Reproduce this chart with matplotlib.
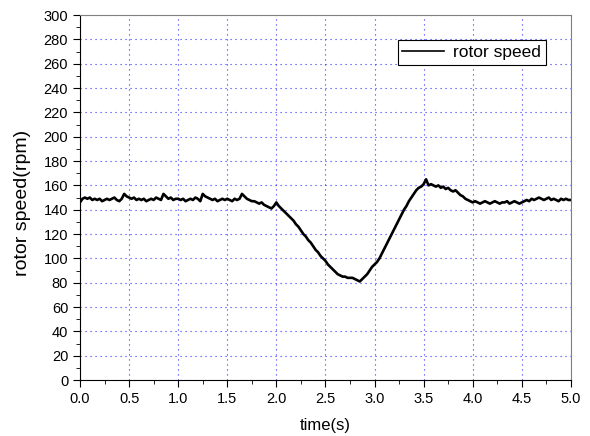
import matplotlib.pyplot as plt
import numpy as np

plt.rcParams['font.family'] = ['Liberation Sans', 'DejaVu Sans']

speed = [
    146, 149, 150, 149, 150, 148, 149, 148, 149, 147, 148, 149, 148, 149, 150, 148, 147, 149, 153, 151,
    150, 149, 150, 148, 149, 148, 149, 147, 148, 149, 148, 150, 149, 148, 153, 151, 149, 150, 148, 149,
    149, 148, 149, 147, 148, 149, 148, 150, 149, 147, 153, 151, 150, 149, 148, 149, 147, 148, 149, 148,
    149, 148, 147, 149, 148, 149, 153, 151, 149, 148, 147, 147, 146, 145, 146, 144, 143, 142, 141, 143,
    146, 143, 141, 139, 137, 135, 133, 131, 128, 126, 123, 120, 118, 115, 113, 110, 107, 105, 102, 100,
    98, 95, 93, 91, 89, 87, 86, 85, 85, 84, 84, 84, 83, 82, 81, 83, 85, 87, 90, 93,
    95, 97, 100, 104, 108, 112, 116, 120, 124, 128, 132, 136, 140, 143, 147, 150, 153, 156, 158, 159,
    161, 165, 160, 161, 160, 159, 160, 158, 159, 157, 158, 156, 155, 156, 154, 152, 151, 149, 148, 147,
    146, 147, 146, 145, 146, 147, 146, 145, 146, 147, 146, 145, 146, 146, 147, 145, 146, 147, 146, 145,
    146, 147, 148, 147, 149, 148, 149, 150, 149, 148, 149, 150, 148, 149, 148, 147, 149, 148, 149, 148, 148,
]
time = np.linspace(0, 5, len(speed))

fig = plt.figure(figsize=(5.9, 4.36), dpi=100)
ax = fig.add_axes([0.1356, 0.1284, 0.832, 0.837])

ax.plot(time, speed, color='black', linewidth=1.9, label='rotor speed')

ax.set_xlim(0, 5)
ax.set_ylim(0, 300)
ax.set_xticks(np.arange(0, 5.01, 0.5))
ax.set_xticks(np.arange(0, 5.01, 0.25), minor=True)
ax.set_yticks(np.arange(0, 301, 20))
ax.set_yticks(np.arange(0, 301, 10), minor=True)
ax.tick_params(which='both', direction='out', labelsize=10.5)
ax.tick_params(which='major', length=5)
ax.tick_params(which='minor', length=3)
ax.xaxis.set_major_formatter(plt.FormatStrFormatter('%.1f'))

ax.grid(True, which='major', color='#3030ff', linestyle=(0, (1, 3.5)), linewidth=0.8)
ax.spines['top'].set_color('#808080')
ax.spines['right'].set_color('#808080')

ax.set_xlabel('time(s)', fontsize=12)
ax.set_ylabel('rotor speed(rpm)', fontsize=14)
ax.xaxis.set_label_coords(0.5, -0.105)
ax.yaxis.set_label_coords(-0.100, 0.485)

leg = ax.legend(loc='upper right', bbox_to_anchor=(0.966, 0.956), fontsize=12.5,
                fancybox=False, framealpha=1, edgecolor='black', handlelength=2.4,
                handletextpad=0.5, borderpad=0.28)
leg.get_frame().set_linewidth(0.8)
leg.get_lines()[0].set_linewidth(1.2)

fig.savefig('out.png', dpi=100)
